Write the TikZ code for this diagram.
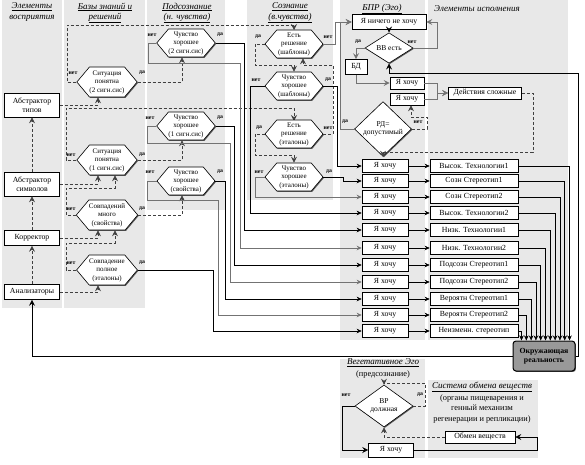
\documentclass[tikz,border=0pt]{standalone}
\usepackage{fontspec}
\setmainfont{Liberation Serif}
\usetikzlibrary{arrows.meta,shapes.geometric,shapes.symbols,shadows}
\begin{document}
\begin{tikzpicture}[x=1pt,y=-1pt,
 panel/.style={fill=black!9, draw=none},
 shad/.style={drop shadow={shadow xshift=0.9pt, shadow yshift=-0.9pt, fill=black!65, opacity=1}},
 box/.style={draw, fill=white, line width=0.6pt, inner sep=0pt, align=center, font=\fontsize{7.8}{8.8}\selectfont, shad},
 hexa/.style={signal, signal to=west and east, signal pointer angle=100, draw, fill=white, line width=0.6pt, inner sep=0pt, minimum width=58pt, minimum height=28pt, align=center, font=\fontsize{7}{8.5}\selectfont, shad},
 dia/.style={diamond, draw, fill=white, line width=0.6pt, inner sep=0pt, align=center, font=\fontsize{7.5}{8.5}\selectfont, shad},
 lab/.style={inner sep=0pt, font=\fontsize{5.8}{6}\selectfont\bfseries},
 hdr/.style={inner sep=0pt, font=\fontsize{9}{9}\selectfont\itshape},
 txt/.style={inner sep=0pt, font=\fontsize{8.3}{9}\selectfont},
 okr/.style={draw, line width=1pt, fill=black!40, rounded corners=3pt, inner sep=0pt, align=center, font=\fontsize{7.8}{9.5}\selectfont\bfseries, minimum width=62pt, minimum height=30pt, shad},
 arr/.style={-{Stealth[length=6pt,width=6pt,inset=2.2pt]}, line width=0.6pt},
 garr/.style={arr, draw=black!55, line width=0.9pt},
 dsh/.style={arr, draw=black!75, dash pattern=on 3pt off 2pt},
 sarr/.style={-{Stealth[length=5pt,width=4.5pt,inset=1.5pt]}, line width=0.6pt},
 gsarr/.style={sarr, draw=black!55, line width=0.9pt},
]
\useasboundingbox (0,0) rectangle (585,464);
% panels
\fill[panel] (2,0) rectangle (62,308);
\fill[panel] (64,0) rectangle (145,308);
\fill[panel] (147,0) rectangle (225,210);
\fill[panel] (247,0) rectangle (333,200);
\fill[panel] (340,0) rectangle (425,340);
\fill[panel] (428,0) rectangle (568,340);
\fill[panel] (340,359) rectangle (425,458);
\fill[panel] (428,380) rectangle (538,458);
% headers
\node[hdr] (h1a) at (32,7) {\underline{Элементы}};
\node[hdr] (h1b) at (32,18) {восприятия};
\node[hdr] (h2a) at (105,7) {\underline{Базы знаний и}};
\node[hdr] (h2b) at (105,18) {\underline{решений}};
\node[hdr] (h3a) at (187,7) {\underline{Подсознание}};
\node[hdr] (h3b) at (187,18) {\underline{(н. чувства)}};
\node[hdr] (h4a) at (290,7) {\underline{Сознание}};
\node[hdr] (h4b) at (290,18) {\underline{(в.чувства)}};
\node[hdr] (h5) at (382,9) {\underline{БПР (Эго)}};
\node[hdr] (h6) at (477,9) {Элементы исполнения};
% column 1
\node[box, minimum width=55pt, minimum height=24pt] (at) at (32,105) {Абстрактор\\типов};
\node[box, minimum width=55pt, minimum height=24pt] (as) at (32,184) {Абстрактор\\символов};
\node[box, minimum width=55pt, minimum height=15pt] (kor) at (32,238) {Корректор};
\node[box, minimum width=55pt, minimum height=15pt] (an) at (32,292) {Анализаторы};
\draw[dsh] (an.north) -- (kor.south);
\draw[dsh] (kor.north) -- (as.south);
\draw[dsh] (as.north) -- (at.south);
% column 2
\node[hexa, minimum width=60pt, minimum height=30pt] (s2) at (107,82) {Ситуация\\понятна\\(2 сигн.сис)};
\node[hexa, minimum width=60pt, minimum height=30pt] (s1) at (107,160) {Ситуация\\понятна\\(1 сигн.сис)};
\node[hexa, minimum width=60pt, minimum height=30pt] (sm) at (107,215) {Совпадений\\много\\(свойства)};
\node[hexa, minimum width=60pt, minimum height=30pt] (sp) at (107,270) {Совпадение\\полное\\(эталоны)};
\node[lab] (l1) at (73,73) {нет}; \node[lab] (l2) at (142,73) {да};
\node[lab] (l3) at (71,155) {нет}; \node[lab] (l4) at (142,155) {да};
\node[lab] (l5) at (71,209) {нет}; \node[lab] (l6) at (142,209) {да};
\node[lab] (l7) at (71,263) {нет}; \node[lab] (l8) at (142,263) {да};
\draw[dsh] (at.east) -| ([xshift=-9pt]s2.south);
\draw[dsh] (as.east) -| ([xshift=-9pt]s1.south);
\draw[dsh] (kor.east) -| ([xshift=-9pt]sm.south);
\draw[dsh] (an.east) -| ([xshift=-9pt]sp.south);
\draw[dsh] (sm.west) -- (66,215) -- (66,188) -| ([xshift=8pt]s1.south);
\draw[dsh] (sp.west) -- (66,270) -- (66,243) -| ([xshift=8pt]sm.south);
\draw[dsh] (s2.west) -- (67,82) -- (67,25) -| (294,30);
\draw[dsh] (s1.west) -- (66,160) -- (66,108) -| (294,121);
% column 3
\node[hexa] (c2) at (186,43) {Чувство\\хорошее\\(2 сигн.сис)};
\node[hexa] (c1) at (186,126) {Чувство\\хорошее\\(1 сигн.сис)};
\node[hexa] (cs) at (186,181) {Чувство\\хорошее\\(свойства)};
\node[lab] (l9) at (152,35) {нет}; \node[lab] (l10) at (220,35) {да};
\node[lab] (l11) at (150,118) {нет}; \node[lab] (l12) at (220,118) {да};
\node[lab] (l13) at (150,172) {нет}; \node[lab] (l14) at (220,172) {да};
\draw[dsh] (s2.east) -| ([xshift=-4pt]c2.south);
\draw[dsh] (s1.east) -| ([xshift=-4pt]c1.south);
\draw[dsh] (sm.east) -| ([xshift=-4pt]cs.south);
% column 4
\node[hexa] (e1) at (294,44) {Есть\\решение\\(шаблоны)};
\node[hexa] (f1) at (294,86) {Чувство\\хорошее\\(шаблоны)};
\node[hexa] (e2) at (294,134) {Есть\\решение\\(эталоны)};
\node[hexa] (f2) at (294,177) {Чувство\\хорошее\\(эталоны)};
\node[lab] (l15) at (258,37) {да}; \node[lab] (l16) at (328,37) {нет};
\node[lab] (l17) at (256,80) {нет}; \node[lab] (l18) at (328,80) {да};
\node[lab] (l19) at (259,128) {да}; \node[lab] (l20) at (328,128) {нет};
\node[lab] (l21) at (259,172) {нет}; \node[lab] (l22) at (329,172) {да};
\draw[dsh] (e1.west) -- (255,44) -- (255,65) -| (f1.north);
\draw[dsh] (e2.east) -- (333,134) -- (333,65) -| ([xshift=9pt]e1.south);
\draw[dsh] (e2.west) -- (255,134) -- (255,155) -| (f2.north);
% BPR
\node[box, minimum width=74pt, minimum height=15pt] (nh) at (389,22) {Я ничего не хочу};
\node[dia, minimum width=48pt, minimum height=30pt] (vv) at (389,48) {ВВ есть};
\node[box, minimum width=22pt, minimum height=15pt] (bd) at (356,67) {БД};
\node[box, minimum width=34pt, minimum height=12pt] (yh1) at (407,83) {Я хочу};
\node[box, minimum width=34pt, minimum height=12pt] (yh2) at (407,99) {Я хочу};
\node[box, minimum width=73pt, minimum height=12pt] (ds) at (485,93) {Действия сложные};
\node[dia, minimum width=57pt, minimum height=35pt] (rd) at (383,129) {РД=\\допустимый};
\node[lab] (l23) at (358,42) {да}; \node[lab] (l24) at (412,42) {нет};
\node[lab] (l25) at (345,122) {да}; \node[lab] (l26) at (418,122) {нет};
\draw[arr] (nh.south) -- (vv.north);
\draw[garr] (vv.east) -- (437,48) |- (nh.east);
\draw[garr] (vv.west) -| (bd.north);
\draw[garr] (bd.south) |- (yh1.west);
\draw[garr] (yh1.east) -- (437,83) |- (ds.west);
\draw[garr] (yh2.east) -- (437,99) |- (ds.west);
\draw[dsh] (ds.east) -- (533,93) -- (533,152) -| (rd.south);
\draw[dsh] (rd.east) -- (427,129) -- (427,117) -| ([xshift=4pt]yh2.south);
\draw[garr] (rd.west) -- (340,129) |- (nh.west);
\draw[garr] (e1.east) -- (335,44) |- (nh.west);
% environment
\node[okr] (ok) at (544,356) {Окружающая\\реальность};
\draw[arr] (ok.east) -- (578,356) -- (578,73) -| (vv.south);
\draw[arr] (ok.west) -| (an.south);
% rows
\foreach \i/\y/\t in {1/166/Высок. Технологии1, 2/181/Созн Стереотип1, 3/197/Созн Стереотип2, 4/213/Высок. Технологии2, 5/230/Низк. Технологии1, 6/248/Низк. Технологии2, 7/265/Подсозн Стереотип1, 8/282/Подсозн Стереотип2, 9/299/Вероятн Стереотип1, 10/315/Вероятн Стереотип2, 11/331/Неизменн. стереотип}{
 \node[box, minimum width=46pt, minimum height=13pt] (w\i) at (385,\y) {Я хочу};
 \node[box, minimum width=88pt, minimum height=13pt] (r\i) at (474,\y) {\t};
 \draw[sarr] (w\i.east) -- (r\i.west);
 \pgfmathsetmacro\xo{9+(11-\i)*4.8}
 \draw[sarr] (r\i.east) -| ([xshift=\xo pt]ok.north west);
}
% inputs to rows
\draw[sarr] (f1.east) -- (337,86) |- (w1.west);
\draw[sarr] (f2.east) -- (343,177) |- (w2.west);
\draw[gsarr] (f2.west) -- (255,177) |- (w3.west);
\draw[sarr] (f1.west) -- (250,86) |- (w4.west);
\draw[sarr] (c2.east) -- (244,43) |- (w5.west);
\draw[gsarr] (c2.west) -- (148,43) -- (148,63) -- (240,63) |- (w6.west);
\draw[sarr] (c1.east) -- (234,126) |- (w7.west);
\draw[gsarr] (c1.west) -- (147,126) -- (147,143) -- (230,143) |- (w8.west);
\draw[sarr] (cs.east) -- (225,181) |- (w9.west);
\draw[gsarr] (cs.west) -- (147,181) -- (147,200) -- (218,200) |- (w10.west);
\draw[sarr] (sp.east) -- (213,270) |- (w11.west);
% vegetative
\node[hdr] (vg1) at (383,363) {\underline{Вегетативное Эго}};
\node[txt] (vg2) at (383,374) {(предсознание)};
\node[hdr] (so1) at (482,387) {\underline{Система обмена веществ}};
\node[txt] (so2) at (482,398) {(органы пищеварения и};
\node[txt] (so3) at (482,408) {генный механизм};
\node[txt] (so4) at (482,419) {регенерации и репликации)};
\node[dia, minimum width=58pt, minimum height=28pt] (vr) at (384,406) {ВР\\должная};
\node[lab] (l27) at (346,395) {нет}; \node[lab] (l28) at (420,395) {да};
\node[box, minimum width=45pt, minimum height=14pt] (yv) at (391,450) {Я хочу};
\node[box, minimum width=70pt, minimum height=12pt] (ob) at (480,437) {Обмен веществ};
\draw[dsh] (vr.east) -- (425,406) -- (425,383) -| (vr.north);
\draw[arr] (vr.west) -- (342,406) |- (yv.west);
\draw[arr] (yv.east) -- (537,450) |- (ob.east);
\draw[dsh] (ob.west) -| (vr.south);
\end{tikzpicture}
\end{document}
